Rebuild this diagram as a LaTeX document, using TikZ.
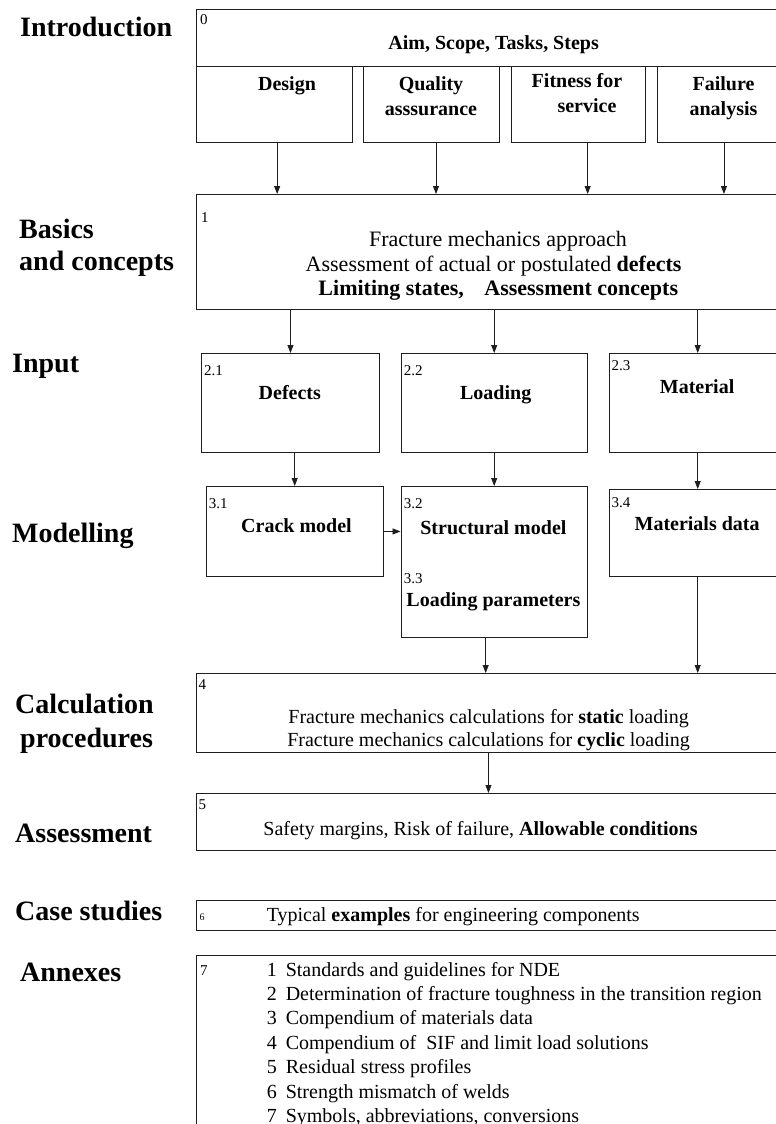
\documentclass[tikz,border=0pt]{standalone}
\usepackage{fontspec}
\setmainfont{Liberation Serif}
\usetikzlibrary{arrows.meta,positioning,calc}
\definecolor{boxline}{RGB}{30,30,30}

\tikzset{
  box/.style={draw=boxline, line width=0.9pt, rectangle, inner sep=0pt, anchor=north west},
  chapter/.style={font=\fontsize{28}{33}\selectfont\bfseries, anchor=base west, inner sep=0pt},
  secnum/.style={font=\fontsize{15}{17}\selectfont, anchor=base west, inner sep=0pt},
  boldtxt/.style={font=\fontsize{20}{24}\selectfont\bfseries, anchor=base, inner sep=0pt},
  plaintxt/.style={font=\fontsize{20}{24}\selectfont, anchor=base, inner sep=0pt},
  flow/.style={-{Triangle[length=8pt,width=6pt]}, line width=0.8pt, draw=boxline},
}

\begin{document}
\begin{tikzpicture}[x=1pt, y=-1pt]
    \useasboundingbox (0,0) rectangle (776,1124);
    \clip (0,0) rectangle (776,1124);

    % chapter names on the left
    \node[chapter] (chintro) at (20,37) {Introduction};
    \node[chapter] (chbasics) at (19,238) {Basics};
    \node[chapter] (chbasics2) at (19,270) {and concepts};
    \node[chapter] (chinput) at (12,372) {Input};
    \node[chapter] (chmodel) at (12,542) {Modelling};
    \node[chapter] (chcalc) at (15,713) {Calculation};
    \node[chapter] (chcalc2) at (20,747) {procedures};
    \node[chapter] (chassess) at (15,842) {Assessment};
    \node[chapter] (chcases) at (15,920) {Case studies};
    \node[chapter] (channex) at (20,981) {Annexes};

    % 0 Introduction
    \node[box, minimum width=584pt, minimum height=57pt] (aim) at (196,9) {};
    \node[secnum] (n0) at (200,25) {0};
    \node[boldtxt] (aimtxt) at (493.6,50) {Aim, Scope, Tasks, Steps};
    \node[box, minimum width=156pt, minimum height=76pt] (design) at (196,66) {};
    \node[box, minimum width=136.5pt, minimum height=76pt] (quality) at (362.5,66) {};
    \node[box, minimum width=134pt, minimum height=76pt] (fitness) at (510.5,66) {};
    \node[box, minimum width=133pt, minimum height=76pt] (failure) at (657,66) {};
    \node[boldtxt] (designtxt) at (287,90) {Design};
    \node[boldtxt] (qualitytxt) at (431,90) {Quality};
    \node[boldtxt] (qualitytxt2) at (431,115) {asssurance};
    \node[boldtxt] (fitnesstxt) at (577,87) {Fitness for};
    \node[boldtxt] (fitnesstxt2) at (587,112) {service};
    \node[boldtxt] (failuretxt) at (723.5,90) {Failure};
    \node[boldtxt] (failuretxt2) at (723.5,115) {analysis};

    % 1 Basics
    \node[box, minimum width=584pt, minimum height=115pt] (basics) at (196,194) {};
    \node[secnum] (n1) at (201,222) {1};
    \node[plaintxt, font=\fontsize{22}{26}\selectfont] (basicstxt) at (498,246) {Fracture mechanics approach};
    \node[plaintxt, font=\fontsize{22}{26}\selectfont] (basicstxt2) at (493.6,271) {Assessment of actual or postulated \textbf{defects}};
    \node[boldtxt, font=\fontsize{22}{26}\selectfont\bfseries] (basicstxt3) at (498.3,295) {Limiting states,\hspace{15pt} Assessment concepts};

    \draw[flow] ([xshift=2.7pt]design.south) -- ([xshift=2.7pt]design.south |- basics.north);
    \draw[flow] ([xshift=4.8pt]quality.south) -- ([xshift=4.8pt]quality.south |- basics.north);
    \draw[flow] ([xshift=9.7pt]fitness.south) -- ([xshift=9.7pt]fitness.south |- basics.north);
    \draw[flow] (failure.south) -- (failure.south |- basics.north);

    % 2 Input
    \node[box, minimum width=178pt, minimum height=99pt] (defects) at (201,353) {};
    \node[box, minimum width=186.5pt, minimum height=99pt] (loading) at (400.5,353) {};
    \node[box, minimum width=177.5pt, minimum height=99pt] (material) at (608.5,353) {};
    \node[secnum] (n21) at (204,375) {2.1};
    \node[boldtxt] (defectstxt) at (289.8,399) {Defects};
    \node[secnum] (n22) at (403.7,375) {2.2};
    \node[boldtxt] (loadingtxt) at (495.7,399) {Loading};
    \node[secnum] (n23) at (611.5,370) {2.3};
    \node[boldtxt] (materialtxt) at (697.1,393) {Material};

    \draw[flow] (basics.south -| defects.north) -- (defects.north);
    \draw[flow] (basics.south -| loading.north) -- (loading.north);
    \draw[flow] (basics.south -| material.north) -- (material.north);

    % 3 Modelling
    \node[box, minimum width=177.5pt, minimum height=90pt] (crack) at (205.5,486) {};
    \node[box, minimum width=186.5pt, minimum height=151pt] (struct) at (400.5,486) {};
    \node[box, minimum width=177.5pt, minimum height=87pt] (matdata) at (608.5,489) {};
    \node[secnum] (n31) at (208.7,508) {3.1};
    \node[boldtxt] (cracktxt) at (296.5,532) {Crack model};
    \node[secnum] (n32) at (403.7,508) {3.2};
    \node[boldtxt] (structtxt) at (493.4,534) {Structural model};
    \node[secnum] (n33) at (403.7,583) {3.3};
    \node[boldtxt] (paramtxt) at (493.4,606) {Loading parameters};
    \node[secnum] (n34) at (611.5,507) {3.4};
    \node[boldtxt] (matdatatxt) at (697.1,530) {Materials data};

    \draw[flow] (defects.south -| crack.north) -- (crack.north);
    \draw[flow] (loading.south) -- (struct.north);
    \draw[flow] (material.south) -- (matdata.north);
    \draw[flow] (crack.east) -- (crack.east -| struct.west);

    % 4 Calculation
    \node[box, minimum width=584pt, minimum height=79pt] (calc) at (196,673) {};
    \node[secnum] (n4) at (198.5,689) {4};
    \node[plaintxt] (calctxt) at (488.6,723) {Fracture mechanics calculations for \textbf{static} loading};
    \node[plaintxt] (calctxt2) at (488.6,746) {Fracture mechanics calculations for \textbf{cyclic} loading};

    \draw[flow] ([xshift=-8.5pt]struct.south) -- ([xshift=-8.5pt]struct.south |- calc.north);
    \draw[flow] (matdata.south) -- (matdata.south |- calc.north);

    % 5 Assessment
    \node[box, minimum width=584pt, minimum height=57pt] (assess) at (196,793) {};
    \node[secnum] (n5) at (198.5,809) {5};
    \node[plaintxt] (assesstxt) at (480.5,835) {Safety margins, Risk of failure, \textbf{Allowable conditions}};

    \draw[flow] (calc.south) -- (assess.north);

    % 6 Case studies
    \node[box, minimum width=584pt, minimum height=30pt] (cases) at (196,900) {};
    \node[secnum, font=\fontsize{10}{12}\selectfont] (n6) at (199.5,920) {6};
    \node[plaintxt, anchor=base west] (casestxt) at (266.6,921) {Typical \textbf{examples} for engineering components};

    % 7 Annexes
    \node[box, minimum width=584pt, minimum height=200pt] (annex) at (196,955) {};
    \node[secnum] (n7) at (200,975) {7};
    \node[plaintxt, anchor=base west] (ax1) at (266.6,976) {1\hspace{9pt}Standards and guidelines for NDE};
    \node[plaintxt, anchor=base west] (ax2) at (266.6,1000.4) {2\hspace{9pt}Determination of fracture toughness in the transition region};
    \node[plaintxt, anchor=base west] (ax3) at (266.6,1024.8) {3\hspace{9pt}Compendium of materials data};
    \node[plaintxt, anchor=base west] (ax4) at (266.6,1049.2) {4\hspace{9pt}Compendium of \ SIF and limit load solutions};
    \node[plaintxt, anchor=base west] (ax5) at (266.6,1073.6) {5\hspace{9pt}Residual stress profiles};
    \node[plaintxt, anchor=base west] (ax6) at (266.6,1098) {6\hspace{9pt}Strength mismatch of welds};
    \node[plaintxt, anchor=base west] (ax7) at (266.6,1122.4) {7\hspace{9pt}Symbols, abbreviations, conversions};

\end{tikzpicture}
\end{document}
